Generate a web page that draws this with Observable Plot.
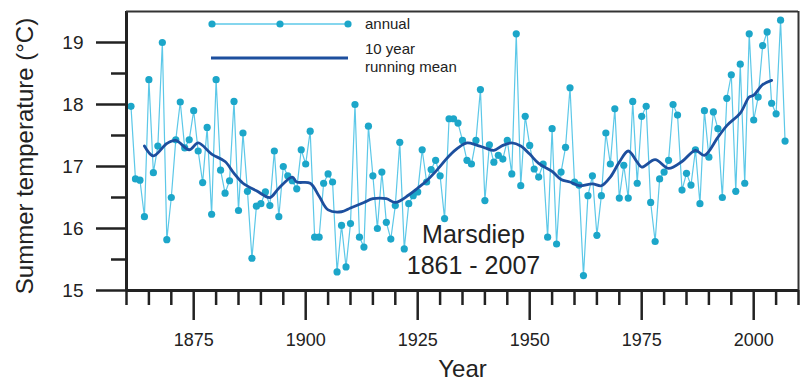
<!DOCTYPE html>
<html><head><meta charset="utf-8">
<script src="https://cdn.jsdelivr.net/npm/d3@7"></script>
<script src="https://cdn.jsdelivr.net/npm/@observablehq/plot@0.6"></script>
<style>body{margin:0;background:#fff} svg{display:block}</style>
</head><body><div id="chart"></div>
<script>
const firstYear = 1861;
const annual = [
  17.97, 16.80, 16.78, 16.19, 18.40, 16.90, 17.33, 19.00, 15.82, 16.50,
  17.43, 18.04, 17.30, 17.43, 17.90, 17.25, 16.74, 17.63, 16.23, 18.40,
  16.94, 16.57, 16.77, 18.05, 16.29, 17.54, 16.60, 15.52, 16.36, 16.40,
  16.59, 16.37, 17.25, 16.19, 17.00, 16.85, 16.77, 16.64, 17.27, 17.04,
  17.57, 15.86, 15.86, 16.73, 16.88, 16.75, 15.30, 16.05, 15.38, 16.08,
  18.00, 15.86, 15.70, 17.65, 16.85, 16.00, 16.91, 16.10, 15.83, 16.37,
  17.39, 15.67, 16.40, 16.53, 16.59, 17.27, 16.75, 16.95, 17.10, 16.85,
  16.16, 17.77, 17.77, 17.70, 17.42, 17.10, 17.04, 17.42, 18.24, 16.45,
  17.35, 17.07, 17.18, 17.12, 17.42, 16.88, 19.14, 16.69, 17.81, 17.34,
  16.96, 16.83, 17.04, 15.86, 17.61, 15.75, 16.91, 17.31, 18.27, 16.75,
  16.70, 15.24, 16.53, 16.85, 15.89, 16.53, 17.54, 17.04, 17.93, 16.49,
  17.02, 16.49, 18.05, 16.73, 17.81, 17.97, 16.42, 15.79, 16.80, 16.91,
  17.10, 18.00, 17.83, 16.62, 16.89, 16.70, 17.27, 16.40, 17.90, 17.15,
  17.88, 17.61, 16.50, 18.10, 18.48, 16.60, 18.65, 16.73, 19.14, 17.75,
  18.12, 18.95, 19.17, 18.02, 17.85, 19.36, 17.41
];
const meanYears = [1864,1866,1869,1871,1874,1876,1879,1882,1884,1886,1889,1892,1894,1897,1898,1901,1903,1905,1908,1910,1913,1915,1918,1920,1923,1925,1927,1929,1932,1934,1936,1938,1940,1942,1944,1946,1948,1950,1952,1955,1957,1959,1961,1964,1966,1968,1970,1972,1974,1975,1978,1981,1984,1987,1989,1992,1994,1997,1999,2000,2002,2004];
const meanValues = [17.33,17.17,17.37,17.42,17.27,17.38,17.20,17.08,16.89,16.73,16.61,16.50,16.65,16.83,16.75,16.73,16.52,16.30,16.27,16.33,16.42,16.48,16.48,16.42,16.54,16.65,16.77,16.92,17.17,17.30,17.38,17.35,17.30,17.26,17.34,17.38,17.33,17.20,17.05,16.92,16.79,16.75,16.69,16.72,16.69,16.83,17.07,17.25,17.07,16.99,17.11,16.97,17.08,17.26,17.18,17.47,17.66,17.86,18.12,18.15,18.32,18.39];
const majorXTicks = [1875, 1900, 1925, 1950, 1975, 2000];
const minorXTicks = [1860,1865,1870,1880,1885,1890,1895,1905,1910,1915,1920,1930,1935,1940,1945,1955,1960,1965,1970,1980,1985,1990,1995,2005,2010];
const yTicks = [15, 16, 17, 18, 19];
const yMinorTicks = [15.5, 16.5, 17.5, 18.5];
const stationLines = ["Marsdiep", "1861 - 2007"];
const legendLabels = ["annual", "10 year", "running mean"];
const yTitle = "Summer temperature (\u00B0C)";
const xTitle = "Year";

const annualData = annual.map((v, i) => ({year: firstYear + i, value: v}));
const meanData = meanYears.map((y, i) => ({year: y, value: meanValues[i]}));

const ink = "#222";
const annualLineColor = "#5cc8e8";
const dotColor = "#1ca6c9";
const meanColor = "#1d4f9e";
const font = "'Liberation Sans', Arial, sans-serif";

const plot = Plot.plot({
  width: 806, height: 390,
  marginLeft: 126, marginRight: 8, marginTop: 11, marginBottom: 100,
  x: {domain: [1860, 2010]},
  y: {domain: [15, 19.5]},
  style: {fontFamily: font, fontSize: "18px", color: ink, background: "#fff"},
  marks: [
    Plot.line(annualData, {x: "year", y: "value", stroke: annualLineColor, strokeWidth: 1.2}),
    Plot.dot(annualData, {x: "year", y: "value", r: 3.6, fill: dotColor}),
    Plot.line(meanData, {x: "year", y: "value", stroke: meanColor, strokeWidth: 2.8, curve: "catmull-rom"}),
    Plot.axisX({ticks: minorXTicks, tickSize: 15, tickFormat: () => "", strokeWidth: 2.5, stroke: ink, label: null}),
    Plot.axisX({ticks: majorXTicks, tickSize: 30, tickPadding: 13, tickFormat: d => String(d), strokeWidth: 2.5, stroke: ink, fontSize: 18, label: null}),
    Plot.axisY({ticks: yMinorTicks, tickSize: 15, tickFormat: () => "", strokeWidth: 2.5, stroke: ink, label: null}),
    Plot.axisY({ticks: yTicks, tickSize: 30, tickPadding: 13, tickFormat: d => String(d), strokeWidth: 2.5, stroke: ink, fontSize: 19, label: null}),
    Plot.ruleY([15], {stroke: ink, strokeWidth: 3}),
    Plot.ruleX([1860], {stroke: ink, strokeWidth: 3}),
    Plot.ruleY([19.5], {stroke: "#333", strokeWidth: 2}),
    Plot.ruleX([2010], {stroke: "#333", strokeWidth: 2}),
    Plot.text([stationLines[0]], {frameAnchor: "bottom", dx: 11, dy: -48, fontSize: 25, fill: ink, textAnchor: "middle"}),
    Plot.text([stationLines[1]], {frameAnchor: "bottom", dx: 11, dy: -17, fontSize: 25, fill: ink, textAnchor: "middle"}),
    Plot.text([xTitle], {frameAnchor: "bottom", dx: 0, dy: 86, fontSize: 24, fill: ink, textAnchor: "middle"}),
    Plot.text([yTitle], {frameAnchor: "left", dx: -101, dy: 5, rotate: -90, fontSize: 24, fill: ink, textAnchor: "middle"})
  ]
});

// legend
const svg = d3.select(plot);
const lg = svg.append("g").attr("font-family", font).attr("fill", ink).attr("text-anchor", "start");
lg.append("line").attr("x1", 212).attr("x2", 348).attr("y1", 24).attr("y2", 24)
  .attr("stroke", annualLineColor).attr("stroke-width", 1.5);
[212, 280, 348].forEach(cx => lg.append("circle").attr("cx", cx).attr("cy", 24).attr("r", 3.6).attr("fill", dotColor));
lg.append("line").attr("x1", 211).attr("x2", 348).attr("y1", 58).attr("y2", 58)
  .attr("stroke", meanColor).attr("stroke-width", 2.8);
lg.append("text").attr("x", 365).attr("y", 24).attr("dy", "0.35em").attr("font-size", 15).text(legendLabels[0]);
lg.append("text").attr("x", 365).attr("y", 49).attr("dy", "0.35em").attr("font-size", 15).text(legendLabels[1]);
lg.append("text").attr("x", 365).attr("y", 67).attr("dy", "0.35em").attr("font-size", 15).text(legendLabels[2]);

document.getElementById("chart").appendChild(plot);
</script></body></html>
